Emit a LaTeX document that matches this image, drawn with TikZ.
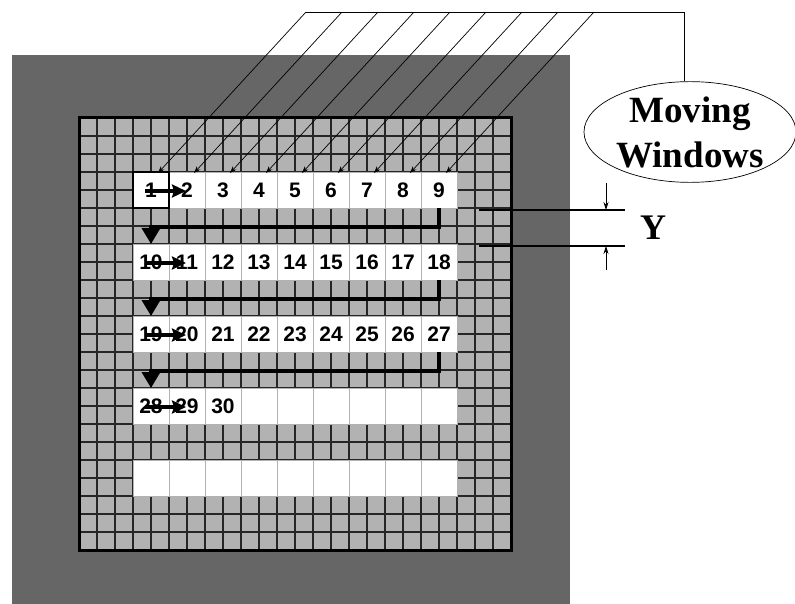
\documentclass[tikz,border=0pt]{standalone}
\usepackage{fontspec}
\setmainfont{Liberation Serif}
\newfontfamily\cellfont{Liberation Sans}
\usetikzlibrary{arrows.meta,positioning,calc,shapes.geometric}

\begin{document}
\begin{tikzpicture}[
  x=1pt,y=-1pt,
  win/.style={fill=white,draw=black!30,line width=0.7pt,minimum width=36pt,
              minimum height=36pt,inner sep=0pt,outer sep=0pt,
              font=\cellfont\bfseries\fontsize{21}{24}\selectfont},
  cellline/.style={line width=1.1pt,black!85},
  stepflow/.style={-{Stealth[length=14pt,width=13pt,inset=2pt]},line width=3.5pt},
  back/.style={-{Triangle[length=16pt,width=18pt]},line width=3.5pt},
  feed/.style={-{Stealth[length=7pt,width=5pt]},line width=0.7pt},
  dimline/.style={line width=2pt},
  dimarrow/.style={-{Stealth[length=8pt,width=5pt]},line width=0.6pt},
]
  \useasboundingbox (0,0) rectangle (795,604);
  \fill[black!60] (12,55) rectangle (570,604);
  \fill[black!30] (79,118) rectangle (511,550);
  \foreach \k in {1,...,23} {
    \draw[cellline] ({79+18*\k},118) -- ({79+18*\k},550);
    \draw[cellline] (79,{118+18*\k}) -- (511,{118+18*\k});
  }

  \foreach \j in {0,...,4}
    \foreach \i in {0,...,8} {
      \pgfmathtruncatemacro\n{9*\j+\i+1}
      \node[win] (w\n) at ({151+36*\i},{190+72*\j}) {\ifnum\n<31 \n\fi};
    }
  \draw[line width=3pt] (79,118) rectangle (511,550);
  \draw[line width=2.5pt] (w1.north west) rectangle (w1.south east);

  \draw[stepflow] ([xshift=-6pt,yshift=-1pt]w1.center)  -- ([xshift=-1pt,yshift=-1pt]w2.center);
  \draw[stepflow] ([xshift=-6pt,yshift=-1pt]w10.center) -- ([xshift=-1pt,yshift=-1pt]w11.center);
  \draw[stepflow] ([xshift=-6pt,yshift=-1pt]w19.center) -- ([xshift=-1pt,yshift=-1pt]w20.center);
  \draw[stepflow] ([xshift=-6pt,yshift=-1pt]w28.center) -- ([xshift=-1pt,yshift=-1pt]w29.center);

  \draw[back] (w9.south)  -- ++(0,19) -| (w10.north);
  \draw[back] (w18.south) -- ++(0,19) -| (w19.north);
  \draw[back] (w27.south) -- ++(0,19) -| (w28.north);

  \node[ellipse,draw,line width=0.7pt,minimum width=212pt,minimum height=99pt,
        inner sep=0pt,align=center,font=\bfseries\fontsize{37}{45}\selectfont]
        (mw) at (690,132) {Moving\\Windows};
  \coordinate (corner) at (684,12);
  \draw[line width=0.7pt] (306,12) -- (corner) -- (corner |- mw.north);
  \foreach \i in {0,...,8} {
    \pgfmathtruncatemacro\n{\i+1}
    \coordinate (h\n) at ({306+36*\i},12);
    \draw[feed] (h\n) -- ([xshift=7pt,yshift=-1pt]w\n.north);
  }

  \coordinate (ya) at (479,210);
  \coordinate (yb) at (479,246);
  \draw[dimline] (ya) -- ++(146,0);
  \draw[dimline] (yb) -- ++(146,0);
  \coordinate (yta) at (606,183);
  \coordinate (ytb) at (606,270);
  \draw[dimarrow] (yta) -- (yta |- ya);
  \draw[dimarrow] (ytb) -- (ytb |- yb);
  \node[font=\bfseries\fontsize{36}{40}\selectfont] (ylab) at (653,228) {Y};
\end{tikzpicture}
\end{document}
